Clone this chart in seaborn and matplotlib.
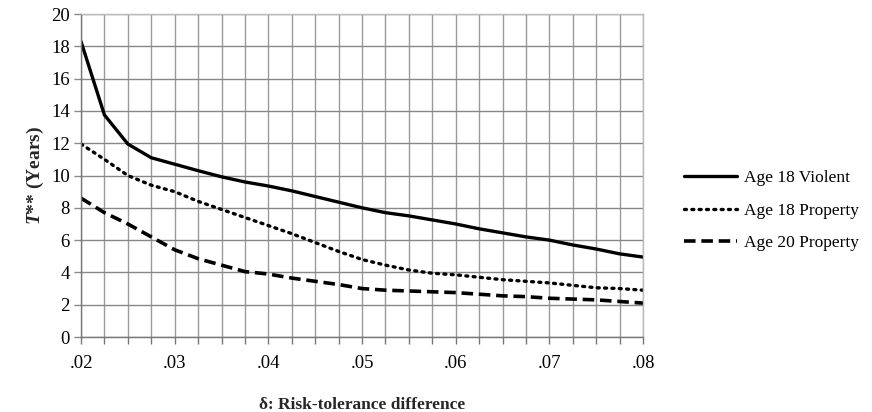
import numpy as np
import pandas as pd
import matplotlib
matplotlib.use("Agg")
import matplotlib.pyplot as plt
import seaborn as sns
from matplotlib.ticker import MultipleLocator, FuncFormatter

delta = [0.02, 0.0225, 0.025, 0.0275, 0.03, 0.0325, 0.035, 0.0375, 0.04, 0.0425,
         0.045, 0.0475, 0.05, 0.0525, 0.055, 0.0575, 0.06, 0.0625, 0.065, 0.0675,
         0.07, 0.0725, 0.075, 0.0775, 0.08]
age18_violent = [18.3, 13.75, 11.95, 11.1, 10.7, 10.3, 9.92, 9.6, 9.35, 9.05,
                 8.7, 8.35, 8.0, 7.7, 7.5, 7.25, 7.0, 6.7, 6.45, 6.2,
                 6.0, 5.7, 5.45, 5.15, 4.95]
age18_property = [11.95, 11.0, 10.0, 9.4, 9.0, 8.4, 7.9, 7.4, 6.9, 6.4,
                  5.85, 5.3, 4.8, 4.45, 4.15, 3.95, 3.85, 3.7, 3.55, 3.45,
                  3.35, 3.2, 3.05, 3.0, 2.9]
age20_property = [8.6, 7.7, 7.0, 6.2, 5.4, 4.85, 4.45, 4.05, 3.9, 3.65,
                  3.45, 3.25, 3.0, 2.9, 2.85, 2.8, 2.75, 2.65, 2.55, 2.5,
                  2.4, 2.35, 2.3, 2.2, 2.1]
series_names = ["Age 18 Violent", "Age 18 Property", "Age 20 Property"]
x_ticklabels = [".02", ".03", ".04", ".05", ".06", ".07", ".08"]

sns.set_theme(style="white")
plt.rcParams['font.family'] = ['Liberation Serif', 'DejaVu Serif']
plt.rcParams['mathtext.fontset'] = 'custom'
plt.rcParams['mathtext.it'] = 'Liberation Serif:italic:bold'
plt.rcParams['mathtext.rm'] = 'Liberation Serif:bold'

fig = plt.figure(figsize=(8.72, 4.12), dpi=100)
ax = fig.add_axes([0.0929, 0.182, 0.6445, 0.784])

styles = [dict(linestyle='-', linewidth=2.4),
          dict(linestyle=(0, (0.6, 1.6)), linewidth=2.4, dash_capstyle='round'),
          dict(linestyle=(0, (3.2, 1.6)), linewidth=2.6)]
for name, vals, st in zip(series_names, [age18_violent, age18_property, age20_property], styles):
    df = pd.DataFrame({"delta": delta, "T": vals})
    sns.lineplot(data=df, x="delta", y="T", ax=ax, color='black', label=name, **st)

ax.set_xlim(0.02, 0.08)
ax.set_ylim(0, 20)
ax.xaxis.set_major_locator(MultipleLocator(0.01))
ax.xaxis.set_minor_locator(MultipleLocator(0.0025))
ax.yaxis.set_major_locator(MultipleLocator(2))
ax.xaxis.set_major_formatter(FuncFormatter(lambda v, p: x_ticklabels[int(round((v - 0.02) / 0.01))] if 0 <= round((v - 0.02) / 0.01) < len(x_ticklabels) else ""))

ax.grid(True, which='major', axis='y', color='#888888', linewidth=1.0)
ax.grid(True, which='both', axis='x', color='#9a9a9a', linewidth=1.0)
ax.set_axisbelow(True)

ax.tick_params(axis='x', which='both', direction='out', length=5, width=1, color='#777777',
               bottom=True, labelsize=13.5, pad=8)
ax.tick_params(axis='y', which='major', direction='out', length=5, width=1, color='#888888',
               left=True, labelsize=13.5, pad=3)
for lab in ax.get_xticklabels() + ax.get_yticklabels():
    lab.set_color('black')

for side in ['left', 'bottom']:
    ax.spines[side].set_color('#777777')
    ax.spines[side].set_linewidth(1.0)
for side in ['top', 'right']:
    ax.spines[side].set_color('#bbbbbb')
    ax.spines[side].set_linewidth(1.0)

ax.set_xlabel("δ: Risk-tolerance difference", fontsize=12.5, fontweight='bold', labelpad=18)
ax.set_ylabel(r"$T$** (Years)", fontsize=14, fontweight='bold', labelpad=4)

leg = ax.legend(loc='center left', bbox_to_anchor=(0.776, 0.489), bbox_transform=fig.transFigure,
                frameon=False, fontsize=12.5, handlelength=3.1, handletextpad=0.4,
                labelspacing=0.95, borderaxespad=0)
for t in leg.get_texts():
    t.set_color('black')

fig.savefig("out.png", dpi=100)
